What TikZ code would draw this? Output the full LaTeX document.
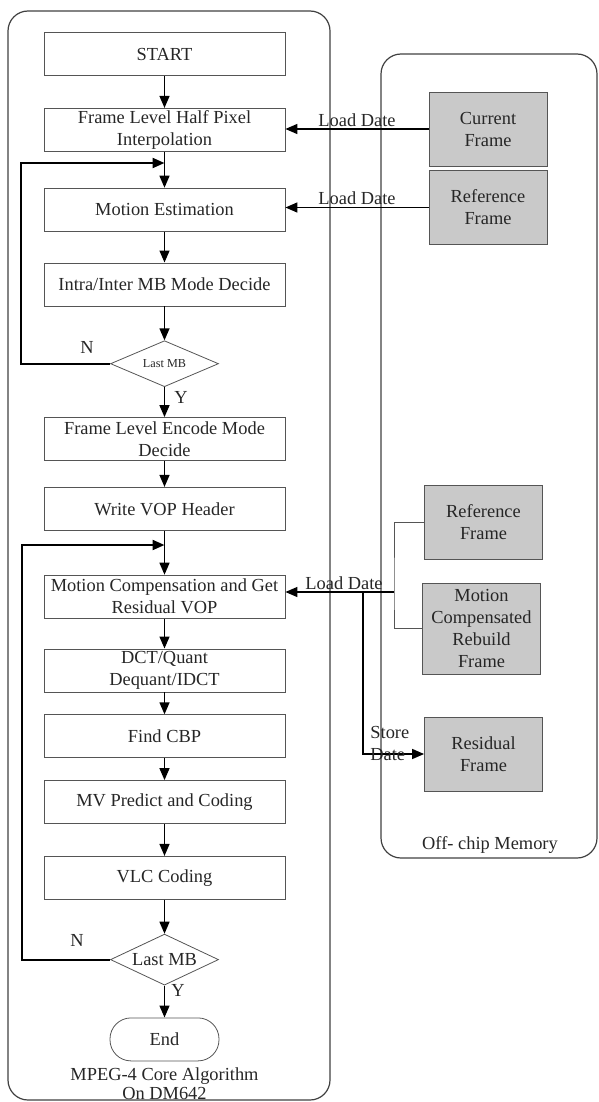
\documentclass[tikz,border=0pt]{standalone}
\usepackage{fontspec}
\setmainfont{Liberation Serif}
\usetikzlibrary{arrows.meta, positioning, shapes.geometric}
\definecolor{memfill}{RGB}{201,201,201}
\definecolor{linegray}{RGB}{85,85,85}

\begin{document}
\begin{tikzpicture}[
  x=0.5pt, y=-0.5pt,
  font=\fontsize{9.2}{11}\selectfont,
  box/.style={draw=linegray, rectangle, minimum width=120.5pt, minimum height=21.5pt, inner sep=0.5pt, align=center, text=black!85},
  decide/.style={draw=linegray, diamond, minimum width=54pt, shape aspect=2.3, inner sep=0pt, text=black!85},
  terminal/.style={draw=linegray, rectangle, rounded corners=10.5pt, minimum width=54.5pt, minimum height=21.5pt, text=black!85},
  memory/.style={draw=linegray, fill=memfill, rectangle, minimum width=59pt, minimum height=37pt, inner sep=0.5pt, align=center, text=black!85},
  panel/.style={draw=black!75, line width=0.6pt, rounded corners=10pt},
  arrow/.style={-{Triangle[length=6pt,width=5pt]}, line width=0.7pt},
  loop/.style={-{Triangle[length=6pt,width=5pt]}, line width=1.1pt},
  lbl/.style={text=black!85, inner sep=1pt}
]
  \useasboundingbox (0,0) rectangle (599,1102);

  % containers
  \draw[panel] (8,11) rectangle (330,1100);
  \draw[panel] (381,54) rectangle (597,858);

  % main flow
  \node[box] (start) at (164.5,54) {START};
  \node[box, below=16pt of start] (fl) {Frame Level Half Pixel\\Interpolation};
  \node[box, below=18pt of fl] (me) {Motion Estimation};
  \node[box, below=15.5pt of me] (intra) {Intra/Inter MB Mode Decide};
  \node[decide, minimum height=23pt, font=\fontsize{6.1}{7}\selectfont, below=17pt of intra] (d1) {Last MB};
  \node[box, below=15pt of d1] (fle) {Frame Level Encode Mode\\Decide};
  \node[box, below=13pt of fle] (wvop) {Write VOP Header};
  \node[box, below=22pt of wvop] (mc) {Motion Compensation and Get\\Residual VOP};
  \node[box, below=15pt of mc] (dct) {DCT/Quant\\Dequant/IDCT};
  \node[box, below=11pt of dct] (cbp) {Find CBP};
  \node[box, below=11pt of cbp] (mv) {MV Predict and Coding};
  \node[box, below=16pt of mv] (vlc) {VLC Coding};
  \node[decide, minimum height=25.5pt, below=17pt of vlc] (d2) {Last MB};
  \node[terminal, below=16pt of d2] (end) {End};
  \node[lbl, align=center, inner sep=0pt, font=\fontsize{9.2}{9.6}\selectfont, anchor=south] (cap) at (164.5,1100) {MPEG-4 Core Algorithm\\On DM642};

  \foreach \a/\b in {start/fl, fl/me, me/intra, intra/d1, d1/fle, fle/wvop,
                     wvop/mc, mc/dct, dct/cbp, cbp/mv, mv/vlc, vlc/d2, d2/end}
    \draw[arrow] (\a) -- (\b);

  % loops back
  \coordinate (lp1) at (21,163);
  \coordinate (in1) at (164.5,163);
  \coordinate (lp2) at (22,545);
  \coordinate (in2) at (164.5,545);
  \draw[loop] (d1.west) -| (lp1) -- (in1);
  \draw[loop] (d2.west) -| (lp2) -- (in2);
  \node[lbl] (n1) at (87,347) {N};
  \node[lbl] (y1) at (181,397) {Y};
  \node[lbl] (n2) at (77,940) {N};
  \node[lbl] (y2) at (178,990) {Y};

  % off-chip memory
  \node[memory] (cur) at (488,129) {Current\\Frame};
  \node[memory] (ref) at (488,207.5) {Reference\\Frame};
  \node[memory] (ref2) at (483.5,522) {Reference\\Frame};
  \node[memory, minimum height=45.5pt] (mcr) at (481.5,628.5) {Motion\\Compensated\\Rebuild\\Frame};
  \node[memory] (res) at (483.5,754) {Residual\\Frame};
  \node[lbl] (offlbl) at (490,845) {Off- chip Memory};

  \draw[arrow] (cur.west) -- (cur.west -| fl.east) node[lbl, above, midway] (ld1) {Load Date};
  \draw[arrow] (ref.west) -- (ref.west -| me.east) node[lbl, above, midway] (ld2) {Load Date};

  \coordinate (join) at (394,592);
  \coordinate (split) at (363,592);
  \draw[linegray, line width=0.5pt] (ref2.west) -| (join) |- (mcr.west);
  \draw[arrow] (join) -- (join -| mc.east) node[lbl, above, pos=0.46] (ld3) {Load Date};
  \draw[arrow] (split) |- (res.west);
  \node[lbl, align=left, anchor=west] (sd) at (368,743) {Store\\Date};
\end{tikzpicture}
\end{document}
